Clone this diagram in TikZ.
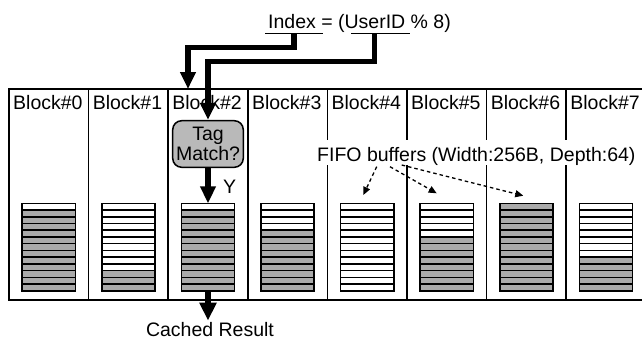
\documentclass[tikz,border=0pt]{standalone}
\usepackage{fontspec}
\setmainfont{Liberation Sans}
\usetikzlibrary{arrows.meta,calc}
\definecolor{cellgray}{RGB}{170,170,170}
\definecolor{tagfill}{RGB}{185,185,185}

\begin{document}
\begin{tikzpicture}[x=1pt,y=-1pt,
  txt/.style={font=\fontsize{19.5}{20}\selectfont, inner sep=0pt},
  thinline/.style={line width=1.5pt},
  column/.style={draw, line width=1.5pt, minimum width=79.6pt, minimum height=211pt,
                 anchor=north west, inner sep=0pt, outer sep=0pt},
  buffer/.style={minimum width=53.3pt, minimum height=87.4pt, inner sep=0pt, outer sep=0pt},
  fat/.style={line width=5.5pt, -{Triangle[length=17pt,width=15pt]}},
  dasharrow/.style={line width=1.3pt, dash pattern=on 3.5pt off 3pt,
                    -{Triangle[length=8pt,width=7pt]}},
  tagbox/.style={draw, line width=1.5pt, fill=tagfill, rounded corners=9pt,
                 minimum width=70.6pt, minimum height=46.6pt, inner sep=0pt,
                 align=center, font=\fontsize{19.5}{20}\selectfont},
]
\useasboundingbox (0,0) rectangle (642,341);
\clip (0,0) rectangle (642,341);

% one column per cache block, with its label
\foreach \i in {0,...,7} {
  \node[column] (col\i) at ({9+79.6*\i},89) {};
  \node[txt, anchor=base west] (lab\i) at ({13+79.6*\i},109) {Block\#\i};
}

% FIFO buffer of each block: 13 slots, the filled ones shaded from the bottom
\foreach \i/\g in {0/12,1/3,2/12,3/9,4/0,5/8,6/13,7/5} {
  \node[buffer] (buf\i) at ({48.8+79.6*\i},247) {};
  \ifnum\g>0
    \fill[cellgray] (buf\i.south west) rectangle ($(buf\i.south east)+(0,{-6.723*\g})$);
  \fi
  \foreach \r in {1,...,12}
    \draw[thinline] ($(buf\i.north west)+(0,{6.723*\r})$) -- ($(buf\i.north east)+(0,{6.723*\r})$);
  \draw[line width=1.6pt] (buf\i.south west) rectangle (buf\i.north east);
}

% index computation
\node[txt, anchor=base west] (formula) at (268,28) {Index = (UserID \% 8)};
\node[minimum width=58pt, minimum height=0pt, inner sep=0pt, outer sep=0pt] (ulIndex) at (294,33.3) {};
\node[minimum width=59pt, minimum height=0pt, inner sep=0pt, outer sep=0pt] (ulUser) at (380.5,33.3) {};
\draw[thinline] (ulIndex.west) -- (ulIndex.east);
\draw[thinline] (ulUser.west) -- (ulUser.east);

% tag comparison
\node[tagbox] (tag) at (208,144) {Tag\\Match?};
\node[txt, anchor=base west] (yes) at (223,193) {Y};

% buffer annotation
\node[txt, anchor=base west, fill=white, inner xsep=2pt, inner ysep=1pt,
      text height=20pt, text depth=3pt] (fifo) at (315,161) {FIFO buffers (Width:256B, Depth:64)};

\node[txt, anchor=base] (cached) at (210,336) {Cached Result};

% connectors
\coordinate (idxBend) at (188,47.5);
\coordinate (idxIn) at (188,89);
\coordinate (uidOut) at (374.5,33.3);
\coordinate (uidBend) at (208,61.5);
\coordinate (resOut) at (208,320.5);

\draw[fat] (ulIndex.center) |- (idxBend) -- (idxIn);
\draw[fat] (uidOut) |- (uidBend) -- (tag.north);
\draw[fat] (tag.south) -- (buf2.north);
\draw[fat, -{Triangle[length=18pt,width=16.5pt]}] (buf2.south) -- (resOut);

\coordinate (f1) at (376.7,166.7);
\coordinate (f2) at (390,166.7);
\coordinate (f3) at (401.7,165);
\coordinate (t4) at (363.3,195);
\coordinate (t5) at (436.7,193.3);
\coordinate (t6) at (523.3,195.7);
\draw[dasharrow] (f1) -- (t4);
\draw[dasharrow] (f2) -- (t5);
\draw[dasharrow] (f3) -- (t6);
\end{tikzpicture}
\end{document}
